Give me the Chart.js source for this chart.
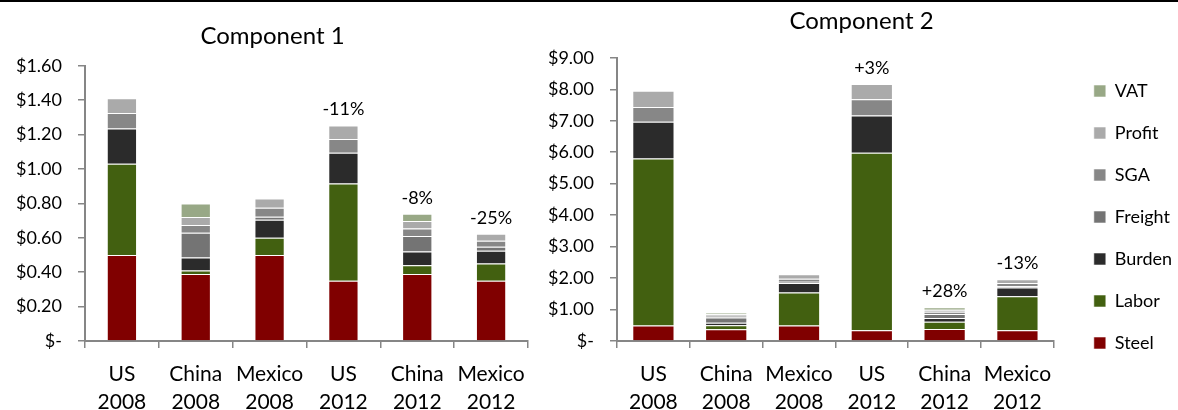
<!DOCTYPE html>
<html>
<head>
<meta charset="utf-8">
<script src="https://cdn.jsdelivr.net/npm/chart.js@4/dist/chart.umd.min.js"></script>
<style>
  html, body { margin: 0; padding: 0; background: #fff; }
  #wrap { position: relative; width: 1178px; height: 410px; overflow: hidden; border-top: 2px solid #000; box-sizing: border-box; }
  #c1box { position: absolute; left: 0; top: -2px; width: 545px; height: 410px; }
  #c2box { position: absolute; left: 549px; top: -2px; width: 625px; height: 410px; }
</style>
</head>
<body>
<div id="wrap">
  <div id="c1box"><canvas id="c1" width="545" height="410"></canvas></div>
  <div id="c2box"><canvas id="c2" width="625" height="410"></canvas></div>
</div>
<script>
// ---- data ----
const countries = ['US', 'China', 'Mexico', 'US', 'China', 'Mexico'];
const years = ['2008', '2008', '2008', '2012', '2012', '2012'];
const seriesNames = ['Steel', 'Labor', 'Burden', 'Freight', 'SGA', 'Profit', 'VAT'];

// Component 1 ($ per unit)
const c1Steel   = [0.50, 0.39, 0.50, 0.35, 0.39, 0.35];
const c1Labor   = [0.53, 0.02, 0.10, 0.565, 0.05, 0.10];
const c1Burden  = [0.205, 0.075, 0.105, 0.18, 0.08, 0.075];
const c1Freight = [0.00, 0.145, 0.017, 0.00, 0.09, 0.023];
const c1SGA     = [0.09, 0.045, 0.053, 0.08, 0.044, 0.035];
const c1Profit  = [0.087, 0.046, 0.054, 0.078, 0.043, 0.04];
const c1VAT     = [0.00, 0.078, 0.00, 0.00, 0.043, 0.00];
const c1Change  = ['', '', '', '-11%', '-8%', '-25%'];
const c1Ticks   = ['$-', '$0.20', '$0.40', '$0.60', '$0.80', '$1.00', '$1.20', '$1.40', '$1.60'];

// Component 2 ($ per unit)
const c2Steel   = [0.49, 0.37, 0.49, 0.34, 0.38, 0.34];
const c2Labor   = [5.31, 0.13, 1.05, 5.64, 0.23, 1.08];
const c2Burden  = [1.17, 0.08, 0.30, 1.19, 0.12, 0.28];
const c2Freight = [0.00, 0.17, 0.04, 0.00, 0.13, 0.04];
const c2SGA     = [0.47, 0.05, 0.10, 0.51, 0.07, 0.10];
const c2Profit  = [0.51, 0.05, 0.14, 0.49, 0.06, 0.12];
const c2VAT     = [0.00, 0.05, 0.00, 0.00, 0.08, 0.00];
const c2Change  = ['', '', '', '+3%', '+28%', '-13%'];
const c2Ticks   = ['$-', '$1.00', '$2.00', '$3.00', '$4.00', '$5.00', '$6.00', '$7.00', '$8.00', '$9.00'];

// ---- styles ----
const colors = {
  Steel: '#800000', Labor: '#426010', Burden: '#2b2b2b', Freight: '#747474',
  SGA: '#878787', Profit: '#aaaaaa', VAT: '#98a886'
};
const FONT = 'Lato, "Open Sans", sans-serif';
const AXIS = '#868686';

const labels = countries.map((c, i) => [c, years[i]]);

function makeDatasets(arrs, barPct) {
  return seriesNames.map((n, k) => ({
    label: n,
    data: arrs[k],
    backgroundColor: colors[n],
    borderColor: 'rgba(255,255,255,0.55)',
    borderWidth: 1,
    barPercentage: barPct,
    categoryPercentage: 1.0,
    stack: 's',
    yAxisID: 'y'
  }));
}

const changePlugin = {
  id: 'changeLabels',
  afterDatasetsDraw(chart, args, opts) {
    const ctx = chart.ctx;
    const texts = opts.texts || [];
    ctx.save();
    ctx.font = '18px ' + FONT;
    ctx.fillStyle = '#000';
    ctx.textAlign = 'center';
    ctx.textBaseline = 'middle';
    texts.forEach((t, i) => {
      if (!t) return;
      let top = Infinity, x = 0;
      chart.data.datasets.forEach((ds, d) => {
        const el = chart.getDatasetMeta(d).data[i];
        if (el && ds.data[i] > 0) { top = Math.min(top, el.y); x = el.x; }
      });
      ctx.fillText(t, x, top - (opts.offset || 16));
    });
    ctx.restore();
  }
};

function buildOptions(cfg) {
  const scales = {
    x: {
      stacked: true,
      grid: { display: true, drawOnChartArea: false, drawTicks: true, tickLength: 7, color: AXIS, lineWidth: 1.5, offset: true },
      border: { display: true, color: AXIS, width: 2 },
      ticks: { color: '#000', font: { family: FONT, size: 21, lineHeight: 1.35 }, padding: 12, maxRotation: 0, autoSkip: false },
      afterFit: (s) => { s.height = 69; }
    },
    y: {
      stacked: true, min: 0, max: cfg.max, position: 'left',
      grid: { display: true, drawOnChartArea: false, drawTicks: true, tickLength: 7, color: AXIS, lineWidth: 1.5 },
      border: { display: true, color: AXIS, width: 2 },
      ticks: { stepSize: cfg.step, color: '#000', font: { family: FONT, size: 18 }, padding: 16,
        callback: (v, i) => cfg.ticks[i] },
      afterFit: (s) => { s.width = cfg.yWidth; }
    },
    yGap: {
      position: 'right', display: true,
      grid: { display: false }, border: { display: false }, ticks: { display: false },
      afterFit: (s) => { s.width = cfg.gap; }
    }
  };
  return {
    responsive: false,
    animation: false,
    layout: { padding: 0 },
    plugins: {
      title: { display: true, text: cfg.title, color: '#000', font: { family: FONT, size: 24, weight: 'normal' }, padding: cfg.titlePad },
      legend: cfg.legend ? {
        display: true, position: 'right', reverse: true,
        title: { display: true, text: '', font: { size: 10 }, padding: { top: 12, bottom: 0 } },
        labels: { color: '#000', font: { family: FONT, size: 18 }, boxWidth: 12, boxHeight: 12, padding: 24 }
      } : { display: false },
      tooltip: { enabled: false },
      changeLabels: { texts: cfg.texts, offset: 16 }
    },
    scales: scales
  };
}

new Chart(document.getElementById('c1'), {
  type: 'bar',
  data: { labels: labels, datasets: makeDatasets([c1Steel, c1Labor, c1Burden, c1Freight, c1SGA, c1Profit, c1VAT], 0.41) },
  options: buildOptions({ title: 'Component 1', ticks: c1Ticks, max: 1.6, step: 0.2, yWidth: 85, gap: 17,
    titlePad: { top: 22, bottom: 15 }, legend: false, texts: c1Change }),
  plugins: [changePlugin]
});

new Chart(document.getElementById('c2'), {
  type: 'bar',
  data: { labels: labels, datasets: makeDatasets([c2Steel, c2Labor, c2Burden, c2Freight, c2SGA, c2Profit, c2VAT], 0.58) },
  options: buildOptions({ title: 'Component 2', ticks: c2Ticks, max: 9, step: 1, yWidth: 68, gap: 16,
    titlePad: { top: 7, bottom: 22 }, legend: true, texts: c2Change }),
  plugins: [changePlugin]
});
</script>
</body>
</html>
